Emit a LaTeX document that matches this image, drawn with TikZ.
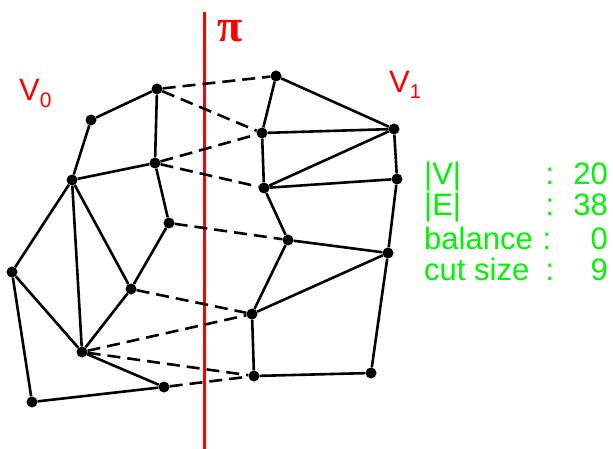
\documentclass[tikz,border=0pt]{standalone}
\usepackage{fontspec}
\setmainfont{Liberation Sans}
\newfontfamily\serifpi{Liberation Serif}
\definecolor{pgreen}{RGB}{0,245,0}
\definecolor{pred}{RGB}{255,0,0}
\begin{document}
\begin{tikzpicture}[x=1pt,y=-1pt,
  dot/.style={circle,fill=black,inner sep=0pt,minimum size=11pt},
  edge/.style={line width=2.6pt,black},
  cut/.style={line width=2.6pt,black,dash pattern=on 13pt off 7pt},
  stat/.style={text=pgreen,font=\fontsize{31}{34}\selectfont,inner sep=0pt},
  lbl/.style={text=pred,inner sep=0pt}]
\useasboundingbox (0,0) rectangle (613,449);
% red separator
\coordinate (ptop) at (204,12);
\coordinate (pbot) at (204,449);
\draw[pred,line width=3pt] (ptop) -- (pbot);
\node[lbl,anchor=base west,font=\serifpi\bfseries\fontsize{46}{48}\selectfont] (pi) at (217,42) {π};
\node[lbl,anchor=base west,font=\fontsize{31}{34}\selectfont] (v0) at (19,101) {V\raisebox{-7pt}{\fontsize{21}{24}\selectfont 0}};
\node[lbl,anchor=base west,font=\fontsize{31}{34}\selectfont] (v1) at (389,93) {V\raisebox{-6pt}{\fontsize{20}{24}\selectfont 1}};
% vertices
\node[dot] (A) at (157,89) {};
\node[dot] (B) at (91,120) {};
\node[dot] (C) at (155,163) {};
\node[dot] (D) at (72,180) {};
\node[dot] (E) at (169,223) {};
\node[dot] (F) at (12,272) {};
\node[dot] (G) at (131,289) {};
\node[dot] (H) at (82,352) {};
\node[dot] (I) at (164,387) {};
\node[dot] (J) at (32,402) {};
\node[dot] (K) at (276,76) {};
\node[dot] (L) at (262,133) {};
\node[dot] (M) at (394,129) {};
\node[dot] (N) at (264,188) {};
\node[dot] (O) at (397,179) {};
\node[dot] (P) at (288,240) {};
\node[dot] (Q) at (388,253) {};
\node[dot] (R) at (252,314) {};
\node[dot] (S) at (254,376) {};
\node[dot] (T) at (371,373) {};
% solid edges
\foreach \u/\v in {A/B,B/D,A/C,D/C,C/E,D/F,D/H,D/G,E/G,G/H,F/H,F/J,H/I,J/I,
  K/L,K/M,L/M,L/N,N/M,N/O,M/O,N/P,P/Q,O/Q,P/R,R/Q,R/S,S/T,Q/T}
  \draw[edge] (\u) -- (\v);
% cut edges
\foreach \u/\v in {A/K,A/L,C/L,C/N,E/P,G/R,H/R,H/S,I/S}
  \draw[cut] (\u) -- (\v);
% statistics
\node[stat,anchor=base west] (s1) at (424,185) {|V|};
\node[stat,anchor=base west] (s2) at (424,216) {|E|};
\node[stat,anchor=base west] (s3) at (424,249) {balance};
\node[stat,anchor=base west] (s4) at (424,280) {cut size};
\node[stat,anchor=base] (c1) at (550,185) {:};
\node[stat,anchor=base] (c2) at (550,216) {:};
\node[stat,anchor=base] (c3) at (547,249) {:};
\node[stat,anchor=base] (c4) at (550,280) {:};
\node[stat,anchor=base east] (n1) at (608,185) {20};
\node[stat,anchor=base east] (n2) at (608,216) {38};
\node[stat,anchor=base east] (n3) at (608,249) {0};
\node[stat,anchor=base east] (n4) at (608,280) {9};
\end{tikzpicture}
\end{document}
